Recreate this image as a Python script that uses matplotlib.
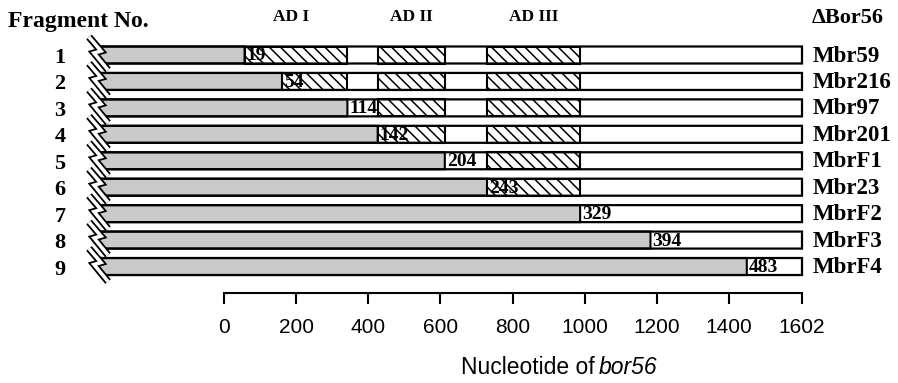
import numpy as np
import matplotlib
matplotlib.use("Agg")
import matplotlib.pyplot as plt
from matplotlib.patches import Polygon

# data
frag_no = ['1', '2', '3', '4', '5', '6', '7', '8', '9']
frag_end_aa = [19, 54, 114, 142, 204, 243, 329, 394, 483]
mutants = ['Mbr59', 'Mbr216', 'Mbr97', 'Mbr201', 'MbrF1', 'Mbr23', 'MbrF2', 'MbrF3', 'MbrF4']
ad_names = ['AD I', 'AD II', 'AD III']
ad_start_aa = [10, 142, 243]
ad_end_aa = [114, 204, 329]
gene_len = 1602
tick_vals = [0, 200, 400, 600, 800, 1000, 1200, 1400, 1602]
tick_labels = ['0', '200', '400', '600', '800', '1000', '1200', '1400', '1602']

plt.rcParams['hatch.linewidth'] = 1.1

serif = 'Liberation Serif'
sans = 'Liberation Sans'

# pixel scale helpers
PX = 0.3608      # px per nucleotide
RH = 26.44       # px per row
sx = 1 / PX
sy = 1 / RH
x0 = 224
def X(px):
    return (px - x0) * sx
def Y(py):
    return (py - 55) * sy + 1

fig = plt.figure(figsize=(8.98, 3.83), dpi=100)
ax = fig.add_axes([0, 90 / 383, 1, 293 / 383])
ax.set_xlim(X(0), X(898))
ax.set_ylim(Y(293), Y(0))

# break symbol (px offsets around bar start)
bolt_x = np.array([-9, 3, -4, 10])
bolt_y = np.array([-18, -4, -2, 15])
bar_px = 98
hh = 8.5
gray = '#c9c9c9'

def bar_poly(row, x_right):
    top = np.interp(-hh, bolt_y, bolt_x)
    bot = np.interp(hh, bolt_y, bolt_x)
    pts = [(top, -hh), (bolt_x[1], bolt_y[1]), (bolt_x[2], bolt_y[2]), (bot, hh)]
    pts = [(X(bar_px + a), row + b * sy) for a, b in pts]
    pts += [(x_right, row + hh * sy), (x_right, row - hh * sy)]
    return pts

for i in range(len(frag_no)):
    row = i + 1
    fe = frag_end_aa[i] * 3
    ax.add_patch(Polygon(bar_poly(row, gene_len), closed=True, facecolor='white',
                         edgecolor='none', zorder=1))
    ax.add_patch(Polygon(bar_poly(row, fe), closed=True, facecolor=gray,
                         edgecolor='black', lw=1.5, zorder=2))
    for s, e in zip(ad_start_aa, ad_end_aa):
        s, e = s * 3, e * 3
        if e > fe:
            s = max(s, fe)
            ax.bar(s, 2 * hh * sy, width=e - s, bottom=row - hh * sy, align='edge',
                   facecolor='white', edgecolor='black', hatch='\\\\\\', lw=1.5, zorder=2)
    ax.add_patch(Polygon(bar_poly(row, gene_len), closed=True, facecolor='none',
                         edgecolor='black', lw=1.6, zorder=3))
    bx = X(bar_px + bolt_x)
    by = row + bolt_y * sy
    ax.plot(bx, by, color='black', lw=5.2, solid_joinstyle='miter', solid_capstyle='butt', zorder=4)
    ax.plot(bx, by, color='white', lw=2.6, solid_joinstyle='miter', solid_capstyle='butt', zorder=5)

    ax.text(fe + 2 * sx, row + 1 * sy, str(frag_end_aa[i]), ha='left', va='center',
            fontsize=14, fontweight='bold', family=serif, zorder=6)
    ax.text(X(60), row + 3 * sy, frag_no[i], ha='center', va='center',
            fontsize=16, fontweight='bold', family=serif)
    ax.text(X(813), row + 1 * sy, mutants[i], ha='left', va='center',
            fontsize=16.5, fontweight='bold', family=serif)

for name, s, e in zip(ad_names, ad_start_aa, ad_end_aa):
    ax.text((s + e) * 3 / 2, Y(17), name, ha='center', va='center',
            fontsize=12.5, fontweight='bold', family=serif)

ax.text(X(8), Y(22), 'Fragment No.', ha='left', va='center',
        fontsize=17, fontweight='bold', family=serif)
ax.text(X(812), Y(18), '\u0394Bor56', ha='left', va='center',
        fontsize=16, fontweight='bold', family=serif)

# x axis
for sp in ['top', 'left', 'right']:
    ax.spines[sp].set_visible(False)
ax.spines['bottom'].set_bounds(0, gene_len)
ax.spines['bottom'].set_linewidth(1.5)
ax.set_yticks([])
ax.set_xticks(tick_vals)
ax.set_xticklabels(tick_labels, family=sans, fontsize=15)
ax.tick_params(axis='x', direction='out', length=8, width=1.5, pad=10)
ax.text(X(595), Y(368), 'Nucleotide of', ha='right', va='center',
        fontsize=16.5, family=sans)
ax.text(X(599), Y(368), 'bor56', ha='left', va='center',
        fontsize=16.5, family=sans, style='italic')

fig.savefig('out.png', dpi=100)
